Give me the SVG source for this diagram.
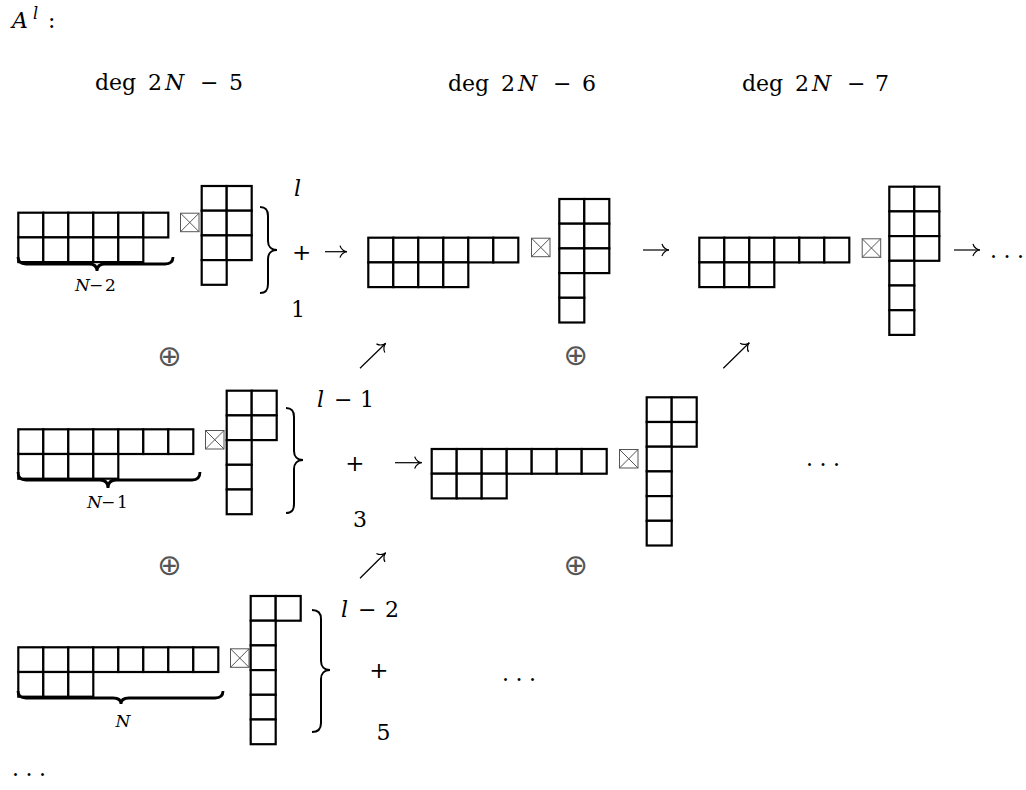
<svg xmlns="http://www.w3.org/2000/svg" width="1026" height="790" viewBox="0 0 1026 790">
<style>
.cell{fill:#fff;stroke:#000;stroke-width:2.2}
.bx{fill:#fff;stroke:#555;stroke-width:1}
.br{fill:none;stroke:#000;stroke-width:2}
.ub{fill:none;stroke:#000;stroke-width:2.8}
.ar{fill:none;stroke:#000;stroke-width:1.2;marker-end:url(#ah)}
</style>
<defs>
<rect id="c" class="cell" width="25" height="24.7"/>
<g id="bt"><rect class="bx" x="0.5" y="0.5" width="18.5" height="18.5"/><path class="bx" d="M0.5,0.5 L19,19 M19,0.5 L0.5,19" fill="none"/></g>
<marker id="ah" viewBox="-9 -8 11 16" markerWidth="11" markerHeight="16" refX="0" refY="0" orient="auto" markerUnits="userSpaceOnUse"><path d="M-7,-6 C-6,-2 -2,0 0,0 C-2,0 -6,2 -7,6" fill="none" stroke="#000" stroke-width="1.2"/></marker>
</defs>
<rect width="1026" height="790" fill="#fff"/>

<g font-family="DejaVu Serif, serif" font-size="22" fill="#000">
<g id="title">
<text y="28"><tspan x="12" font-style="italic">A</tspan><tspan x="33" y="19" font-style="italic" font-size="16">l</tspan><tspan x="48" y="28">:</tspan></text>
</g>
<g id="headers">
<text y="90"><tspan x="95">deg</tspan><tspan x="148">2</tspan><tspan x="165" font-style="italic">N</tspan><tspan x="200">−</tspan><tspan x="229">5</tspan></text>
<text y="91"><tspan x="448">deg</tspan><tspan x="501">2</tspan><tspan x="518" font-style="italic">N</tspan><tspan x="553">−</tspan><tspan x="582">6</tspan></text>
<text y="91"><tspan x="742">deg</tspan><tspan x="795">2</tspan><tspan x="812" font-style="italic">N</tspan><tspan x="847">−</tspan><tspan x="875">7</tspan></text>
</g>

<g id="r1a">
<g id="r1a-left" transform="translate(18.3,212.7)">
<use href="#c" x="0" y="0"/><use href="#c" x="25" y="0"/><use href="#c" x="50" y="0"/><use href="#c" x="75" y="0"/><use href="#c" x="100" y="0"/><use href="#c" x="125" y="0"/>
<use href="#c" x="0" y="24.7"/><use href="#c" x="25" y="24.7"/><use href="#c" x="50" y="24.7"/><use href="#c" x="75" y="24.7"/><use href="#c" x="100" y="24.7"/>
</g>
<path class="ub" d="M18,257 Q18,264 26,264 L89,264 Q97,264 97,271 Q97,264 105,264 L165,264 Q173,264 173,257"/>
<text font-size="17" y="291"><tspan x="75" font-style="italic">N</tspan><tspan x="89">−</tspan><tspan x="105">2</tspan></text>
<use href="#bt" x="180" y="212.7"/>
<g id="r1a-right" transform="translate(201.7,186)">
<use href="#c" x="0" y="0"/><use href="#c" x="25" y="0"/>
<use href="#c" x="0" y="24.7"/><use href="#c" x="25" y="24.7"/>
<use href="#c" x="0" y="49.4"/><use href="#c" x="25" y="49.4"/>
<use href="#c" x="0" y="74.1"/>
</g>
<path class="br" d="M260,207 C266,207 268,210 268,216 L268,241 C268,246 271,250 277,250 C271,250 268,254 268,259 L268,284 C268,290 266,293 260,293"/>
<text font-style="italic" x="294" y="196">l</text>
<text x="301.7" y="259.5" text-anchor="middle" font-size="23">+</text>
<text x="298" y="317" text-anchor="middle">1</text>
</g>

<g id="r1b">
<g id="r1b-left" transform="translate(368.3,237.7)">
<use href="#c" x="0" y="0"/><use href="#c" x="25" y="0"/><use href="#c" x="50" y="0"/><use href="#c" x="75" y="0"/><use href="#c" x="100" y="0"/><use href="#c" x="125" y="0"/>
<use href="#c" x="0" y="24.7"/><use href="#c" x="25" y="24.7"/><use href="#c" x="50" y="24.7"/><use href="#c" x="75" y="24.7"/>
</g>
<use href="#bt" x="531" y="237.7"/>
<g id="r1b-right" transform="translate(559.3,199)">
<use href="#c" x="0" y="0"/><use href="#c" x="25" y="0"/>
<use href="#c" x="0" y="24.7"/><use href="#c" x="25" y="24.7"/>
<use href="#c" x="0" y="49.4"/><use href="#c" x="25" y="49.4"/>
<use href="#c" x="0" y="74.1"/>
<use href="#c" x="0" y="98.8"/>
</g>
</g>

<g id="r1c">
<g id="r1c-left" transform="translate(699.3,237.7)">
<use href="#c" x="0" y="0"/><use href="#c" x="25" y="0"/><use href="#c" x="50" y="0"/><use href="#c" x="75" y="0"/><use href="#c" x="100" y="0"/><use href="#c" x="125" y="0"/>
<use href="#c" x="0" y="24.7"/><use href="#c" x="25" y="24.7"/><use href="#c" x="50" y="24.7"/>
</g>
<use href="#bt" x="861.7" y="238.3"/>
<g id="r1c-right" transform="translate(889.3,186.7)">
<use href="#c" x="0" y="0"/><use href="#c" x="25" y="0"/>
<use href="#c" x="0" y="24.7"/><use href="#c" x="25" y="24.7"/>
<use href="#c" x="0" y="49.4"/><use href="#c" x="25" y="49.4"/>
<use href="#c" x="0" y="74.1"/>
<use href="#c" x="0" y="98.8"/>
<use href="#c" x="0" y="123.5"/>
</g>
<text x="990 1003.5 1017" y="258">...</text>
</g>

<g id="r2a">
<g id="r2a-left" transform="translate(18.3,429.3)">
<use href="#c" x="0" y="0"/><use href="#c" x="25" y="0"/><use href="#c" x="50" y="0"/><use href="#c" x="75" y="0"/><use href="#c" x="100" y="0"/><use href="#c" x="125" y="0"/><use href="#c" x="150" y="0"/>
<use href="#c" x="0" y="24.7"/><use href="#c" x="25" y="24.7"/><use href="#c" x="50" y="24.7"/><use href="#c" x="75" y="24.7"/>
</g>
<path class="ub" d="M18,472 Q18,480 26,480 L100,480 Q108,480 108,488 Q108,480 116,480 L192,480 Q200,480 200,472"/>
<text font-size="17" y="508"><tspan x="87" font-style="italic">N</tspan><tspan x="101">−</tspan><tspan x="117">1</tspan></text>
<use href="#bt" x="205" y="430"/>
<g id="r2a-right" transform="translate(226.7,390.7)">
<use href="#c" x="0" y="0"/><use href="#c" x="25" y="0"/>
<use href="#c" x="0" y="24.7"/><use href="#c" x="25" y="24.7"/>
<use href="#c" x="0" y="49.4"/>
<use href="#c" x="0" y="74.1"/>
<use href="#c" x="0" y="98.8"/>
</g>
<path class="br" d="M286,408 C292,408 294,411 294,417 L294,451 C294,456 297,460 303,460 C297,460 294,464 294,469 L294,504 C294,510 292,513 286,513"/>
<text y="407"><tspan x="317" font-style="italic">l</tspan><tspan x="334">−</tspan><tspan x="360">1</tspan></text>
<text x="355" y="470.5" text-anchor="middle" font-size="23">+</text>
<text x="360" y="527" text-anchor="middle">3</text>
</g>

<g id="r2b">
<g id="r2b-left" transform="translate(431.7,449)">
<use href="#c" x="0" y="0"/><use href="#c" x="25" y="0"/><use href="#c" x="50" y="0"/><use href="#c" x="75" y="0"/><use href="#c" x="100" y="0"/><use href="#c" x="125" y="0"/><use href="#c" x="150" y="0"/>
<use href="#c" x="0" y="24.7"/><use href="#c" x="25" y="24.7"/><use href="#c" x="50" y="24.7"/>
</g>
<use href="#bt" x="619" y="449"/>
<g id="r2b-right" transform="translate(646.7,397.3)">
<use href="#c" x="0" y="0"/><use href="#c" x="25" y="0"/>
<use href="#c" x="0" y="24.7"/><use href="#c" x="25" y="24.7"/>
<use href="#c" x="0" y="49.4"/>
<use href="#c" x="0" y="74.1"/>
<use href="#c" x="0" y="98.8"/>
<use href="#c" x="0" y="123.5"/>
</g>
</g>
<text x="806 819.5 833" y="466">...</text>

<g id="r3a">
<g id="r3a-left" transform="translate(18.3,647.3)">
<use href="#c" x="0" y="0"/><use href="#c" x="25" y="0"/><use href="#c" x="50" y="0"/><use href="#c" x="75" y="0"/><use href="#c" x="100" y="0"/><use href="#c" x="125" y="0"/><use href="#c" x="150" y="0"/><use href="#c" x="175" y="0"/>
<use href="#c" x="0" y="24.7"/><use href="#c" x="25" y="24.7"/><use href="#c" x="50" y="24.7"/>
</g>
<path class="ub" d="M18,691 Q18,698 26,698 L113,698 Q121,698 121,704 Q121,698 129,698 L215,698 Q223,698 223,691"/>
<text font-size="17" font-style="italic" x="123" y="727" text-anchor="middle">N</text>
<use href="#bt" x="230" y="648.3"/>
<g id="r3a-right" transform="translate(250.7,596)">
<use href="#c" x="0" y="0"/><use href="#c" x="25" y="0"/>
<use href="#c" x="0" y="24.7"/>
<use href="#c" x="0" y="49.4"/>
<use href="#c" x="0" y="74.1"/>
<use href="#c" x="0" y="98.8"/>
<use href="#c" x="0" y="123.5"/>
</g>
<path class="br" d="M312,610 C318,610 321,613 321,619 L321,661 C321,666 324,670 330,670 C324,670 321,674 321,679 L321,723 C321,729 318,732 312,732"/>
<text y="617"><tspan x="341" font-style="italic">l</tspan><tspan x="358">−</tspan><tspan x="385">2</tspan></text>
<text x="379" y="678" text-anchor="middle" font-size="23">+</text>
<text x="383.5" y="740" text-anchor="middle">5</text>
</g>
<text x="502 515.5 529" y="681">...</text>
<text x="12 25.5 39" y="776">...</text>
</g>

<g id="oplus" font-family="DejaVu Sans, sans-serif" font-size="29" fill="#555" text-anchor="middle">
<text x="169.3" y="366">⊕</text>
<text x="575.7" y="365">⊕</text>
<text x="169.3" y="575">⊕</text>
<text x="575.7" y="575">⊕</text>
</g>

<g id="connectors">
<path class="ar" d="M325,251.7 L347,251.7"/>
<path class="ar" d="M643,250 L669,250"/>
<path class="ar" d="M954,250 L980,250"/>
<path class="ar" d="M395,462.7 L421.7,462.7"/>
<path class="ar" d="M360,368.3 L385.7,343.3"/>
<path class="ar" d="M723.3,368.3 L749.3,342.7"/>
<path class="ar" d="M360,578.3 L385.7,552.7"/>
</g>
</svg>
